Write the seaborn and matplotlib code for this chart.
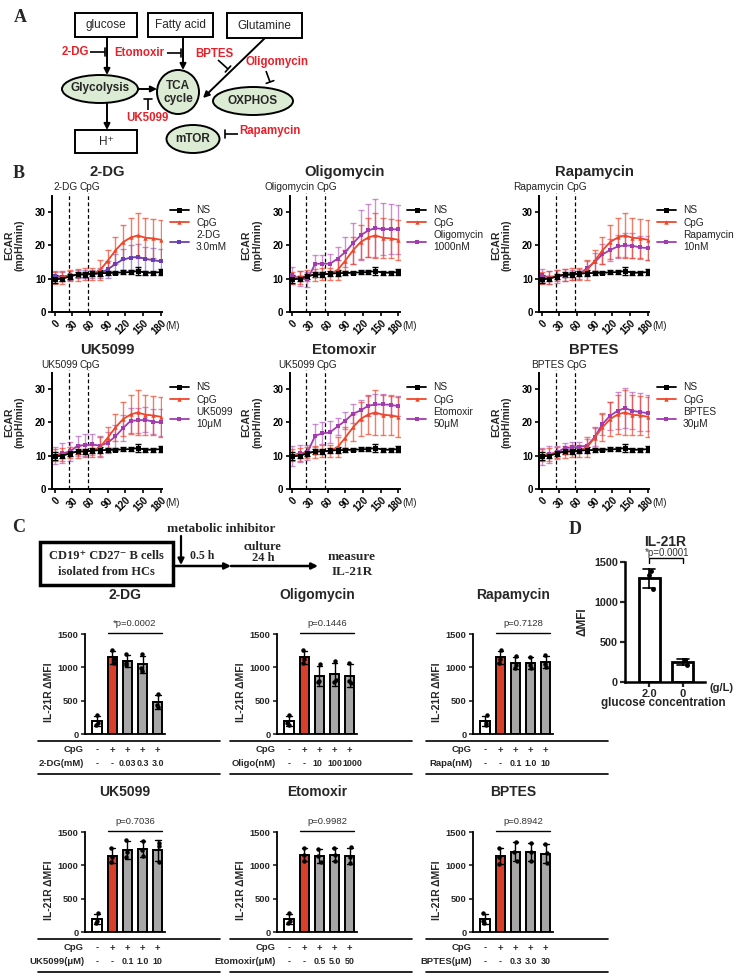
import numpy as np
import pandas as pd
import matplotlib
matplotlib.use("Agg")
import matplotlib.pyplot as plt
import matplotlib.transforms as mtransforms
from matplotlib.lines import Line2D
from matplotlib.patches import Ellipse, Rectangle
import seaborn as sns

# ---------------- data: panel B (ECAR time courses) ----------------
time_min = [0, 13, 26, 39, 51, 64, 77, 90, 103, 116, 129, 141, 154, 167, 180]
inj_times = [24, 56]
time_ticks = [0, 30, 60, 90, 120, 150, 180]
ecar_ticks = [0, 10, 20, 30]

ns_mean = [9.8, 10.0, 10.7, 11.3, 11.3, 11.5, 11.7, 11.7, 11.8, 11.9, 12.0, 12.3, 11.8, 11.8, 12.0]
ns_err = [1.2, 0.8, 0.8, 0.8, 0.7, 0.7, 0.9, 0.6, 0.5, 0.6, 0.7, 1.2, 0.6, 0.6, 1.0]
cpg_mean = [10.2, 10.4, 10.9, 11.2, 11.3, 11.4, 12.6, 15.4, 18.5, 21.0, 22.4, 23.0, 22.3, 22.1, 21.7]
cpg_err = [1.8, 1.9, 1.6, 1.8, 1.8, 1.9, 3.0, 3.2, 4.0, 5.0, 5.9, 6.8, 6.0, 5.9, 6.0]

dg_mean = [10.8, 10.6, 11.0, 11.3, 11.3, 11.3, 11.6, 12.8, 14.4, 15.8, 16.3, 16.6, 15.9, 15.6, 15.2]
dg_err = [1.5, 1.3, 1.3, 1.2, 1.2, 1.2, 1.5, 2.5, 3.0, 3.2, 3.7, 3.8, 3.5, 3.6, 3.8]
oligo_mean = [11.0, 10.0, 9.8, 14.5, 14.5, 14.5, 16.0, 18.0, 20.6, 23.0, 24.5, 25.2, 24.9, 24.9, 24.8]
oligo_err = [2.5, 2.2, 2.2, 2.5, 2.6, 2.9, 3.6, 4.6, 6.2, 7.5, 8.0, 8.8, 7.8, 7.6, 7.4]
rapa_mean = [11.0, 10.3, 10.7, 11.0, 11.2, 11.4, 13.2, 15.0, 17.3, 18.6, 19.7, 20.0, 19.9, 19.4, 19.2]
rapa_err = [2.0, 2.0, 2.0, 1.8, 1.5, 1.5, 2.0, 2.8, 3.0, 3.2, 3.5, 3.6, 3.8, 3.5, 3.5]
uk_mean = [10.0, 10.7, 11.3, 13.0, 13.2, 13.4, 13.0, 13.9, 15.8, 18.3, 20.5, 20.6, 20.8, 20.2, 20.0]
uk_err = [2.6, 3.0, 2.8, 3.0, 3.2, 3.2, 3.0, 3.2, 3.5, 4.0, 3.8, 3.8, 3.8, 3.8, 4.0]
eto_mean = [10.0, 10.7, 11.0, 16.0, 16.7, 17.0, 18.8, 20.5, 22.6, 23.6, 25.0, 25.4, 25.4, 25.3, 24.9]
eto_err = [3.0, 2.5, 2.2, 3.4, 3.3, 3.3, 2.5, 2.6, 2.8, 3.0, 3.0, 3.0, 3.0, 3.0, 3.0]
bptes_mean = [9.8, 10.4, 11.0, 12.3, 12.5, 12.7, 13.0, 15.6, 19.5, 22.0, 23.5, 24.3, 23.5, 23.1, 22.8]
bptes_err = [2.5, 2.5, 2.0, 1.5, 1.5, 1.5, 2.0, 2.6, 3.2, 4.2, 5.5, 6.0, 5.6, 5.6, 5.5]

b_titles = ["2-DG", "Oligomycin", "Rapamycin", "UK5099", "Etomoxir", "BPTES"]
b_inj_labels = ["2-DG", "Oligomycin", "Rapamycin", "UK5099", "UK5099", "BPTES"]
b_inh_legend = ["2-DG\n3.0mM", "Oligomycin\n1000nM", "Rapamycin\n10nM",
                "UK5099\n10μM", "Etomoxir\n50μM", "BPTES\n30μM"]
b_inh_means = [dg_mean, oligo_mean, rapa_mean, uk_mean, eto_mean, bptes_mean]
b_inh_errs = [dg_err, oligo_err, rapa_err, uk_err, eto_err, bptes_err]

# ---------------- data: panel C (IL-21R bars) ----------------
c_titles = ["2-DG", "Oligomycin", "Rapamycin", "UK5099", "Etomoxir", "BPTES"]
c_pvals = ["*p=0.0002", "p=0.1446", "p=0.7128", "p=0.7036", "p=0.9982", "p=0.8942"]
c_agents = ["2-DG(mM)", "Oligo(nM)", "Rapa(nM)", "UK5099(μM)", "Etomoxir(μM)", "BPTES(μM)"]
c_conditions = ["NS", "CpG", "low", "mid", "high"]
c_cpg = ["-", "+", "+", "+", "+"]
c_doses = [["-", "-", "0.03", "0.3", "3.0"],
           ["-", "-", "10", "100", "1000"],
           ["-", "-", "0.1", "1.0", "10"],
           ["-", "-", "0.1", "1.0", "10"],
           ["-", "-", "0.5", "5.0", "50"],
           ["-", "-", "0.3", "3.0", "30"]]
c_dots = [
    [[285, 160, 140], [1260, 1130, 1060], [1195, 1060, 1030], [1195, 990, 950], [595, 440, 405]],
    [[285, 160, 140], [1260, 1130, 1060], [1045, 800, 780], [1095, 810, 780], [1070, 790, 765]],
    [[285, 160, 140], [1260, 1130, 1060], [1170, 1030, 990], [1160, 1040, 990], [1180, 1050, 1010]],
    [[285, 160, 140], [1265, 1120, 1045], [1380, 1200, 1120], [1365, 1230, 1135], [1335, 1290, 1045]],
    [[285, 160, 140], [1260, 1150, 1070], [1250, 1140, 1045], [1255, 1155, 1070], [1270, 1130, 1035]],
    [[285, 160, 140], [1265, 1130, 1025], [1345, 1200, 1070], [1340, 1205, 1070], [1315, 1180, 1030]],
]
mfi_ticks = [0, 500, 1000, 1500]

# ---------------- data: panel D ----------------
d_labels = ["2.0", "0"]
d_dots = [[1385, 1335, 1165], [280, 270, 210]]
d_pval = "*p=0.0001"

# ---------------- style ----------------
sns.set_theme(style="white")
SANS = ["Liberation Sans", "DejaVu Sans"]
SERIF = ["Liberation Serif", "DejaVu Serif"]
plt.rcParams["font.family"] = SANS

RED_LINE = "#F0462A"
RED_BAR = "#F52A0C"
GRAY_BAR = "#A6A6A6"
DRUG_RED = "#E8202A"
GREEN = "#DCEBD3"
PURPLES = ["#6B3FB4", "#A23BB0", "#A23BB0", "#A23BB0", "#A23BB0", "#A23BB0"]

W, H = 738, 976
fig = plt.figure(figsize=(W / 100, H / 100), dpi=100)


def rect(left, top, right, bottom):
    return [left / W, 1 - bottom / H, (right - left) / W, (bottom - top) / H]


ov = fig.add_axes([0, 0, 1, 1])
ov.set_xlim(0, W)
ov.set_ylim(H, 0)
ov.axis("off")


def box(x0, y0, x1, y1, lw=1.4):
    ov.add_patch(Rectangle((x0, y0), x1 - x0, y1 - y0, fill=False, lw=lw, ec="black"))


def ell(cx, cy, w, h):
    ov.add_patch(Ellipse((cx, cy), w, h, fc=GREEN, ec="black", lw=1.4))


def arrow(x0, y0, x1, y1, lw=1.4, ms=9):
    ov.annotate("", xy=(x1, y1), xytext=(x0, y0),
                arrowprops=dict(arrowstyle="-|>", color="black", lw=lw,
                                mutation_scale=ms, shrinkA=0, shrinkB=0))


def inhib(x0, y0, x1, y1, half=4.0):
    ov.plot([x0, x1], [y0, y1], color="black", lw=1.2, solid_capstyle="butt")
    dx, dy = x1 - x0, y1 - y0
    L = np.hypot(dx, dy)
    px, py = -dy / L * half, dx / L * half
    ov.plot([x1 - px, x1 + px], [y1 - py, y1 + py], color="black", lw=1.2)


# ---------------- panel labels ----------------
for lab, (x, y) in {"A": (20, 18), "B": (19, 173), "C": (19, 528), "D": (575, 529)}.items():
    ov.text(x, y, lab, family=SERIF, fontweight="bold", fontsize=13, ha="center", va="center")

# ---------------- panel A diagram ----------------
box(75, 13, 137, 37)
box(148, 13, 213, 37)
box(227, 13, 302, 38)
ov.text(106, 25, "glucose", fontsize=8.5, ha="center", va="center")
ov.text(180, 25, "Fatty acid", fontsize=8.5, ha="center", va="center")
ov.text(264, 26, "Glutamine", fontsize=8.5, ha="center", va="center")
ell(100, 89, 76, 28)
ell(178, 92, 42, 44)
ell(253, 101, 80, 28)
ell(193, 139, 53, 28)
ov.text(100, 88, "Glycolysis", fontsize=8.5, fontweight="bold", ha="center", va="center")
ov.text(178, 86, "TCA", fontsize=8.5, fontweight="bold", ha="center", va="center")
ov.text(178, 99, "cycle", fontsize=8.5, fontweight="bold", ha="center", va="center")
ov.text(253, 101, "OXPHOS", fontsize=8.5, fontweight="bold", ha="center", va="center")
ov.text(193, 139, "mTOR", fontsize=8.5, fontweight="bold", ha="center", va="center")
box(75, 130, 137, 153)
ov.text(106, 142, "H⁺", fontsize=8.5, ha="center", va="center", family=SANS)
arrow(107, 37, 107, 75)
arrow(183, 37, 183, 70)
arrow(265, 38, 203, 98)
arrow(138, 89, 157, 89)
arrow(107, 103, 107, 130)
for txt, (x, y) in {"2-DG": (75, 52), "Etomoxir": (139, 53), "BPTES": (214, 54),
                    "Oligomycin": (277, 62), "UK5099": (147, 118), "Rapamycin": (270, 131)}.items():
    ov.text(x, y, txt, color=DRUG_RED, fontweight="bold", fontsize=8.3, ha="center", va="center")
inhib(90, 52, 105, 52)
inhib(167, 53, 181, 53)
inhib(218, 60, 228, 69)
inhib(266, 71, 270, 82)
inhib(148, 110, 148, 99)
inhib(238, 134, 225, 134)

# ---------------- panel B ----------------
b_left = [52, 289.5, 539]
b_rows = [(195.5, 312.0), (372.5, 489.0)]
b_lab_y = [187, 365]
b_width = 110
for k in range(6):
    r, c = divmod(k, 3)
    top, bot = b_rows[r]
    ax = fig.add_axes(rect(b_left[c], top, b_left[c] + b_width, bot))
    ax.patch.set_alpha(0)
    pc = PURPLES[k]
    series = [("Inh", b_inh_means[k], b_inh_errs[k], pc, "s", 3.0, 0.55),
              ("CpG", cpg_mean, cpg_err, RED_LINE, "^", 3.2, 0.7),
              ("NS", ns_mean, ns_err, "black", "s", 3.6, 1.0)]
    for name, m, e, col, mk, ms, a in series:
        ax.errorbar(time_min, m, yerr=e, fmt="none", ecolor=col, alpha=a,
                    elinewidth=1.0, capsize=2.0, capthick=1.0, zorder=2)
    for name, m, e, col, mk, ms, a in series:
        df = pd.DataFrame({"time": time_min, "ecar": m})
        sns.lineplot(data=df, x="time", y="ecar", color=col, marker=mk, markersize=ms,
                     markeredgewidth=0, linewidth=1.3, ax=ax, zorder=3)
    ax.set_xlim(-4.5, 182)
    ax.set_ylim(0, 35)
    ax.set_xticks(time_ticks)
    ax.set_xticklabels([str(t) for t in time_ticks], rotation=45, ha="right",
                       rotation_mode="anchor", fontsize=7, fontweight="bold")
    ax.set_yticks(ecar_ticks)
    ax.set_yticklabels([str(t) for t in ecar_ticks], fontsize=7, fontweight="bold")
    ax.tick_params(axis="both", length=3, width=1.2, pad=1.5, colors="black", direction="out",
                   bottom=True, left=True)
    for s in ["top", "right"]:
        ax.spines[s].set_visible(False)
    for s in ["left", "bottom"]:
        ax.spines[s].set_linewidth(1.4)
        ax.spines[s].set_color("black")
    ax.set_xlabel("")
    ax.set_ylabel("ECAR\n(mpH/min)", fontsize=7.5, fontweight="bold", linespacing=1.1)
    ax.yaxis.set_label_coords(-27 / b_width, 0.57)
    ax.text(1.03, -14 / (bot - top), "(M)", transform=ax.transAxes, fontsize=7,
            ha="left", va="center", color="#222222")
    for t in inj_times:
        ax.axvline(t, ymin=0, ymax=1.025, color="black", lw=0.9, ls=(0, (3, 2)),
                   clip_on=False, zorder=1)
    mid = sum(inj_times) / len(inj_times)
    ly = (bot - b_lab_y[r]) / (bot - top)
    tr = mtransforms.blended_transform_factory(ax.transData, ax.transAxes)
    ax.text(mid - 1.5, ly, b_inj_labels[k], transform=tr, ha="right", va="center",
            fontsize=7.3, color="#222222")
    ax.text(mid + 1.5, ly, "CpG", transform=tr, ha="left", va="center",
            fontsize=7.3, color="#222222")
    ax.text(0.5, (bot - (172 if r == 0 else 350)) / (bot - top), b_titles[k],
            transform=ax.transAxes, ha="center", va="center", fontsize=10.7, fontweight="bold")
    handles = [Line2D([], [], color="black", marker="s", ms=3.6, mew=0, lw=1.3),
               Line2D([], [], color=RED_LINE, marker="^", ms=3.2, mew=0, lw=1.3),
               Line2D([], [], color=pc, marker="s", ms=3.0, mew=0, lw=1.3)]
    ax.legend(handles, ["NS", "CpG", b_inh_legend[k]], loc="upper left",
              bbox_to_anchor=(1.07, 0.915), frameon=False, fontsize=7.3,
              handlelength=1.9, handletextpad=0.7, labelspacing=0.25,
              borderpad=0, borderaxespad=0, labelcolor="#222222")

# ---------------- panel C diagram ----------------
box(40, 542, 173, 585, lw=2.5)
ov.text(106, 556, "CD19⁺ CD27⁻ B cells", family=SERIF, fontweight="bold", fontsize=9,
        ha="center", va="center")
ov.text(106, 572, "isolated from HCs", family=SERIF, fontweight="bold", fontsize=9,
        ha="center", va="center")
ov.text(221, 529, "metabolic inhibitor", family=SERIF, fontweight="bold", fontsize=9.5,
        ha="center", va="center")
arrow(181, 536, 181, 565, lw=1.6)
ov.text(190, 556, "0.5 h", family=SERIF, fontweight="bold", fontsize=8.5, ha="left", va="center")
arrow(173, 566, 231, 566, lw=1.8)
arrow(231, 566, 318, 566, lw=1.8)
ov.text(263, 547, "culture", family=SERIF, fontweight="bold", fontsize=9, ha="center", va="center")
ov.text(263, 558, "24 h", family=SERIF, fontweight="bold", fontsize=9, ha="center", va="center")
ov.text(352, 557, "measure", family=SERIF, fontweight="bold", fontsize=9.5, ha="center", va="center")
ov.text(352, 572, "IL-21R", family=SERIF, fontweight="bold", fontsize=9.5, ha="center", va="center")

# ---------------- panel C bar charts ----------------
np.random.seed(3)
c_left = [85, 277, 473]
c_rows = [(634, 734), (832, 932)]
c_title_y = [595, 792]
c_width = 80
c_dose_shift = [[0, 0, 0, 0, 0], [0, 0, -2, 0, 3], [0, 0, 0, 0, 0],
                [0, 0, 0, 0, 0], [0, 0, 0, 0, 0], [0, 0, 0, 0, 0]]
bar_cols = ["white", RED_BAR, GRAY_BAR, GRAY_BAR, GRAY_BAR]
for k in range(6):
    r, c = divmod(k, 3)
    top, bot = c_rows[r]
    left = c_left[c]
    ax = fig.add_axes(rect(left, top, left + c_width, bot))
    ax.patch.set_alpha(0)
    df = pd.DataFrame({"cond": np.repeat(c_conditions, 3),
                       "val": np.concatenate([np.asarray(d, float) for d in c_dots[k]])})
    sns.barplot(data=df, x="cond", y="val", hue="cond", palette=bar_cols, order=c_conditions,
                hue_order=c_conditions, errorbar="sd", capsize=0.35,
                err_kws={"color": "black", "linewidth": 1.0}, edgecolor="black",
                linewidth=1.4, width=0.6, ax=ax, legend=False)
    sns.stripplot(data=df, x="cond", y="val", order=c_conditions, color="black", size=3.2,
                  jitter=0.12, ax=ax, zorder=5)
    ax.set_xlim(-0.79, 4.47)
    ax.set_ylim(0, 1500)
    ax.set_xticks([])
    ax.set_yticks(mfi_ticks)
    ax.set_yticklabels([str(t) for t in mfi_ticks], fontsize=6.7, fontweight="bold")
    ax.tick_params(axis="y", length=3, width=1.2, pad=1.5, left=True)
    for s in ["top", "right"]:
        ax.spines[s].set_visible(False)
    for s in ["left", "bottom"]:
        ax.spines[s].set_linewidth(1.3)
        ax.spines[s].set_color("black")
    ax.set_xlabel("")
    ax.set_ylabel("IL-21R ΔMFI", fontsize=7.5, fontweight="bold")
    ax.yaxis.set_label_coords(-31 / c_width, 0.42)
    ax.plot([1 - 0.3, 4 + 0.3], [1510, 1510], color="black", lw=1.0, clip_on=False)
    ax.text(2.5, 1665, c_pvals[k], ha="center", va="center", fontsize=6.8, color="#333333")
    ax.text(0.5, (bot - c_title_y[r]) / (bot - top) * 1500, c_titles[k],
            transform=mtransforms.blended_transform_factory(ax.transAxes, ax.transData),
            ha="center", va="center", fontsize=10, fontweight="bold")
    tr = mtransforms.blended_transform_factory(ax.transData, ov.transData)
    xl = -0.79 - 47 / 15.2
    xr = -0.79 + 135 / 15.2
    ax.plot([xl, xr], [bot + 7, bot + 7], transform=tr, color="black", lw=1.2, clip_on=False)
    ax.plot([xl, xr], [bot + 40, bot + 40], transform=tr, color="black", lw=1.2, clip_on=False)
    ax.text(-0.85, bot + 16, "CpG", transform=tr, ha="right", va="center", fontsize=6.8,
            fontweight="bold")
    ax.text(-0.85, bot + 30, c_agents[k], transform=tr, ha="right", va="center", fontsize=6.8,
            fontweight="bold")
    for i in range(5):
        ax.text(i, bot + 16, c_cpg[i], transform=tr, ha="center", va="center", fontsize=6.8,
                fontweight="bold")
        ax.text(i + c_dose_shift[k][i] / 15.2, bot + 30, c_doses[k][i], transform=tr,
                ha="center", va="center", fontsize=6.4, fontweight="bold")

# ---------------- panel D ----------------
axd = fig.add_axes(rect(625, 562, 705, 682))
axd.patch.set_alpha(0)
dfd = pd.DataFrame({"glc": np.repeat(d_labels, 3),
                    "val": np.concatenate([np.asarray(d, float) for d in d_dots])})
sns.barplot(data=dfd, x="glc", y="val", order=d_labels, color="white", errorbar="sd",
            capsize=0.35, err_kws={"color": "black", "linewidth": 1.2}, edgecolor="black",
            linewidth=2.0, width=0.62, ax=axd)
sns.stripplot(data=dfd, x="glc", y="val", order=d_labels, color="black", size=3.5,
              jitter=0.15, ax=axd, zorder=5)
axd.set_xlim(-0.71, 1.65)
axd.set_ylim(0, 1500)
axd.set_yticks(mfi_ticks)
axd.set_yticklabels([str(t) for t in mfi_ticks], fontsize=7.8, fontweight="bold")
axd.set_xticks([0, 1])
axd.set_xticklabels(d_labels, fontsize=8, fontweight="bold")
axd.tick_params(axis="both", length=3.5, width=1.6, pad=1.5, left=True, bottom=True)
for s in ["top", "right"]:
    axd.spines[s].set_visible(False)
for s in ["left", "bottom"]:
    axd.spines[s].set_linewidth(1.8)
    axd.spines[s].set_color("black")
axd.set_xlabel("")
axd.set_ylabel("ΔMFI", fontsize=8.5, fontweight="bold")
axd.yaxis.set_label_coords(-36 / 80, 0.5)
ov.text(710, 688, "(g/L)", fontsize=8, fontweight="bold", ha="left", va="center")
ov.text(663, 703, "glucose concentration", fontsize=8.4, fontweight="bold", ha="center", va="center")
ov.text(665, 542, "IL-21R", fontsize=10, fontweight="bold", ha="center", va="center")
ov.text(667, 553, d_pval, fontsize=7, ha="center", va="center", color="#333333")
trd = mtransforms.blended_transform_factory(axd.transData, ov.transData)
axd.plot([0, 0, 1, 1], [563, 558, 558, 563], transform=trd, color="black", lw=1.0,
         clip_on=False)

fig.savefig("out.png", dpi=100)
